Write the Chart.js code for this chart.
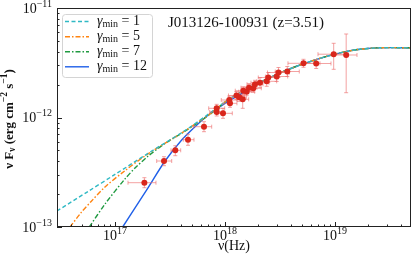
<!DOCTYPE html>
<html>
<head>
<meta charset="utf-8">
<script src="https://cdn.jsdelivr.net/npm/chart.js@4"></script>
<style>
html,body{margin:0;padding:0;background:#fff;}
canvas{display:block;}
</style>
</head>
<body>
<canvas id="sed" width="415" height="260"></canvas>
<script>
//axis limits
const xMin = 2.97e16, xMax = 4.91e19;
const yMin = 1e-13, yMax = 1e-11;
const xMajorTicks = [1e17, 1e18, 1e19];
const yMajorTicks = [1e-13, 1e-12, 1e-11];

//observed points (nu, nuF_nu) and error bar ends
const nu =    [1.85e17,2.79e17,3.534e17,4.61e17,6.443e17,8.405e17,8.405e17,9.59e17,1.094e18,1.11e18,1.272e18,1.349e18,1.449e18,1.467e18,1.575e18,1.653e18,1.808e18,1.874e18,2.08e18,2.394e18,2.475e18,2.951e18,3.065e18,3.685e18,5.172e18,6.746e18,9.732e18,1.264e19];
const nuLo =  [1.313e17,2.394e17,3.229e17,4.178e17,5.149e17,7.109e17,7.26e17,8.405e17,9.256e17,9.59e17,1.076e18,1.165e18,1.278e18,1.24e18,1.332e18,1.398e18,1.529e18,1.585e18,1.723e18,1.942e18,2.008e18,2.344e18,2.435e18,2.867e18,3.738e18,5.012e18,7.007e18,9.59e18];
const nuHi =  [2.358e17,3.278e17,3.957e17,5.226e17,7.57e17,9.938e17,9.73e17,1.165e18,1.294e18,1.285e18,1.504e18,1.562e18,1.642e18,1.734e18,1.862e18,1.954e18,2.138e18,2.216e18,2.512e18,2.951e18,3.051e18,3.715e18,3.858e18,4.736e18,7.305e18,9.197e18,1.313e19,1.585e19];
const flux =  [2.539e-13,4.005e-13,5.018e-13,6.27e-13,8.241e-13,1.213e-12,1.122e-12,1.092e-12,1.444e-12,1.348e-12,1.588e-12,1.529e-12,1.466e-12,1.757e-12,1.72e-12,1.871e-12,1.848e-12,2.01e-12,2.078e-12,2.14e-12,2.319e-12,2.368e-12,2.576e-12,2.63e-12,3.126e-12,3.113e-12,3.784e-12,3.722e-12];
const fluxLo =[2.285e-13,3.629e-13,4.479e-13,5.573e-13,7.42e-13,1.115e-12,1.032e-12,9.83e-13,1.328e-12,1.239e-12,1.46e-12,1.405e-12,1.213e-12,1.615e-12,1.581e-12,1.72e-12,1.698e-12,1.848e-12,1.871e-12,1.927e-12,2.087e-12,2.132e-12,2.319e-12,2.368e-12,2.873e-12,2.802e-12,2.755e-12,1.684e-12];
const fluxHi =[2.82e-13,4.385e-13,5.527e-13,7.025e-13,9.155e-13,1.319e-12,1.221e-12,1.213e-12,1.571e-12,1.466e-12,1.727e-12,1.663e-12,1.709e-12,1.911e-12,1.871e-12,2.035e-12,2.01e-12,2.186e-12,2.309e-12,2.378e-12,2.576e-12,2.63e-12,2.861e-12,2.922e-12,3.40e-12,3.386e-12,4.76e-12,5.79e-12];

//model curves, low energy part of each one
const gammaMin = [1, 5, 7, 12];
const cyanNu = [2.97e16,5.68e16,1e17,1.995e17,4.33e17,7.31e17,1e18];
const cyanF  = [1.40e-13,2.11e-13,3.02e-13,4.70e-13,7.60e-13,1.10e-12,1.385e-12];
const orangeNu = [3.90e16,4.88e16,6.1e16,8.11e16,1.233e17,1.995e17,4.33e17,7.31e17,1e18];
const orangeF  = [1.0e-13,1.34e-13,1.72e-13,2.32e-13,3.27e-13,4.65e-13,7.55e-13,1.08e-12,1.385e-12];
const greenNu = [5.84e16,8.11e16,1.233e17,1.52e17,1.995e17,2.85e17,4.33e17,7.31e17,1e18];
const greenF  = [1.0e-13,1.62e-13,2.75e-13,3.45e-13,4.43e-13,5.79e-13,7.50e-13,1.07e-12,1.385e-12];
const blueNu = [1.175e17,1.942e17,2.85e17,4.04e17,5.34e17,7.05e17,1e18,1.52e18];
const blueF  = [1.0e-13,2.18e-13,4.005e-13,6.23e-13,8.24e-13,1.054e-12,1.348e-12,1.72e-12];
//high energy part shared by all models
const commonNu = [1.18e18,1.69e18,2.41e18,3.37e18,4.81e18,6.86e18,9.59e18,1.285e19,1.69e19,2.41e19,3.16e19,4.91e19];
const commonF  = [1.549e-12,1.88e-12,2.247e-12,2.62e-12,3.016e-12,3.40e-12,3.75e-12,4.02e-12,4.20e-12,4.32e-12,4.35e-12,4.32e-12];

const serif = '"Liberation Serif", "DejaVu Serif", serif';

//joins a low energy branch with the shared high energy part
function curvePoints(lowNu, lowF){
	const pts = lowNu.map((v,i) => ({x:v, y:lowF[i]}));
	const last = lowNu[lowNu.length-1];
	commonNu.forEach((v,i) => { if(v > last) pts.push({x:v, y:commonF[i]}); });
	return pts;
}

const curveStyles = [
	{nu:cyanNu, f:cyanF, color:'#2fb9c4', dash:[4,2.5]},
	{nu:orangeNu, f:orangeF, color:'#ff8410', dash:[5,2,1.5,2]},
	{nu:greenNu, f:greenF, color:'#1f9a40', dash:[5,2,1.5,2]},
	{nu:blueNu, f:blueF, color:'#1f5fe8', dash:[]}
];

const curveSets = curveStyles.map((c,i) => ({
	label: 'gmin=' + gammaMin[i],
	data: curvePoints(c.nu, c.f),
	showLine: true,
	pointRadius: 0,
	borderColor: c.color,
	borderWidth: 1.4,
	borderDash: c.dash,
	tension: 0.3,
	fill: false
}));

//draws "10" with a raised exponent, anchor is 'center' or 'right'
function drawPow(ctx, exp, x, y, anchor){
	ctx.font = '14px ' + serif;
	const wb = ctx.measureText('10').width;
	ctx.font = '10px ' + serif;
	const we = ctx.measureText(exp).width;
	const total = wb + we;
	let x0 = anchor == 'right' ? x - total : x - total/2;
	ctx.textBaseline = 'middle';
	ctx.textAlign = 'left';
	ctx.font = '14px ' + serif;
	ctx.fillText('10', x0, y);
	ctx.font = '10px ' + serif;
	ctx.fillText(exp, x0 + wb, y - 5);
}

//text made of pieces with their own font and vertical shift
function drawRich(ctx, segs, x, y, align){
	let total = 0;
	segs.forEach(s => { ctx.font = s.f; total += ctx.measureText(s.t).width; });
	let cx = align == 'center' ? x - total/2 : x;
	ctx.textBaseline = 'middle';
	ctx.textAlign = 'left';
	segs.forEach(s => {
		ctx.font = s.f;
		ctx.fillText(s.t, cx, y + (s.dy || 0));
		cx += ctx.measureText(s.t).width;
	});
}

function decadeTicks(min, max){
	let out = [];
	for(let e = Math.floor(Math.log10(min)); e <= Math.ceil(Math.log10(max)); e++){
		for(let m = 1; m < 10; m++){
			const v = m * Math.pow(10, e);
			if(v >= min*0.999 && v <= max*1.001) out.push({v:v, major: m == 1});
		}
	}
	return out;
}

const sedPlugin = {
	id: 'sed',
	beforeDatasetDraw(chart, args){
		if(args.index !== 0) return;
		const ctx = chart.ctx, xs = chart.scales.x, ys = chart.scales.y;
		const a = chart.chartArea;
		ctx.save();
		ctx.beginPath();
		ctx.rect(a.left, a.top, a.right - a.left, a.bottom - a.top);
		ctx.clip();
		ctx.strokeStyle = 'rgba(236,112,112,0.65)';
		ctx.lineWidth = 1;
		for(let i = 0; i < nu.length; i++){
			const px = xs.getPixelForValue(nu[i]), py = ys.getPixelForValue(flux[i]);
			const x1 = xs.getPixelForValue(nuLo[i]), x2 = xs.getPixelForValue(nuHi[i]);
			const y1 = ys.getPixelForValue(fluxHi[i]), y2 = ys.getPixelForValue(fluxLo[i]);
			ctx.beginPath();
			ctx.moveTo(x1, py); ctx.lineTo(x2, py);
			ctx.moveTo(px, y1); ctx.lineTo(px, y2);
			//caps
			ctx.moveTo(x1, py-2); ctx.lineTo(x1, py+2);
			ctx.moveTo(x2, py-2); ctx.lineTo(x2, py+2);
			ctx.moveTo(px-2, y1); ctx.lineTo(px+2, y1);
			ctx.moveTo(px-2, y2); ctx.lineTo(px+2, y2);
			ctx.stroke();
		}
		ctx.restore();
	},
	afterDraw(chart){
		const ctx = chart.ctx, xs = chart.scales.x, ys = chart.scales.y;
		const a = chart.chartArea;
		ctx.save();
		ctx.fillStyle = '#111';
		ctx.strokeStyle = '#222';
		ctx.lineWidth = 1;

		//frame
		ctx.strokeRect(Math.round(a.left)+0.5, Math.round(a.top)+0.5, Math.round(a.right-a.left)-1, Math.round(a.bottom-a.top)-1);

		//inward ticks on bottom and left
		ctx.beginPath();
		decadeTicks(xMin, xMax).forEach(t => {
			const p = Math.round(xs.getPixelForValue(t.v)) + 0.5;
			ctx.moveTo(p, a.bottom); ctx.lineTo(p, a.bottom - (t.major ? 5 : 2.5));
		});
		decadeTicks(yMin, yMax).forEach(t => {
			const p = Math.round(ys.getPixelForValue(t.v)) + 0.5;
			ctx.moveTo(a.left, p); ctx.lineTo(a.left + (t.major ? 5 : 2.5), p);
		});
		ctx.stroke();

		//tick labels
		xMajorTicks.forEach(v => drawPow(ctx, String(Math.round(Math.log10(v))), xs.getPixelForValue(v), a.bottom + 9, 'center'));
		yMajorTicks.forEach(v => drawPow(ctx, '\u2212' + String(-Math.round(Math.log10(v))), a.left - 5, ys.getPixelForValue(v) + 1, 'right'));

		//axis titles
		drawRich(ctx, [{t:'\u03bd(Hz)', f:'14px ' + serif}], (a.left + a.right)/2, 246, 'center');
		ctx.save();
		ctx.translate(10, 119);
		ctx.rotate(-Math.PI/2);
		const b = 'bold 13px ' + serif, s = 'bold 9.5px ' + serif;
		drawRich(ctx, [
			{t:'\u03bd F', f:b}, {t:'\u03bd', f:s, dy:3},
			{t:' (erg cm', f:b}, {t:'\u22122', f:s, dy:-5},
			{t:' s', f:b}, {t:'\u22121', f:s, dy:-5}, {t:')', f:b}
		], 0, 0, 'center');
		ctx.restore();

		//source name
		drawRich(ctx, [{t:'J013126-100931 (z=3.51)', f:'15px ' + serif}], 246, 23, 'center');

		//legend
		ctx.beginPath();
		ctx.roundRect(62.5, 14.5, 90, 63, 3);
		ctx.fillStyle = 'rgba(255,255,255,0.8)';
		ctx.fill();
		ctx.strokeStyle = '#d4d4d4';
		ctx.stroke();
		const rows = [21.5, 36.8, 51.8, 66.8];
		curveStyles.forEach((c,i) => {
			ctx.strokeStyle = c.color;
			ctx.lineWidth = 1.4;
			ctx.setLineDash(c.dash);
			ctx.beginPath();
			ctx.moveTo(65, rows[i]); ctx.lineTo(89, rows[i]);
			ctx.stroke();
			ctx.setLineDash([]);
			ctx.fillStyle = '#111';
			drawRich(ctx, [
				{t:'\u03b3', f:'italic 14px ' + serif},
				{t:'min', f:'10px ' + serif, dy:3},
				{t:' = ' + gammaMin[i], f:'14px ' + serif}
			], 97, rows[i], 'left');
		});
		ctx.restore();
	}
};

const points = nu.map((v,i) => ({x:v, y:flux[i]}));

const sedChart = new Chart(document.getElementById('sed'), {
	type: 'scatter',
	data: {
		datasets: [{
			label: 'data',
			data: points,
			pointRadius: 3,
			pointBackgroundColor: '#d9261c',
			pointBorderWidth: 0,
			showLine: false
		}].concat(curveSets)
	},
	options: {
		responsive: false,
		animation: false,
		devicePixelRatio: 1,
		layout: {padding: {left:57, right:4, top:8, bottom:33}},
		plugins: {legend: {display:false}, tooltip: {enabled:false}},
		scales: {
			x: {type:'logarithmic', display:false, min:xMin, max:xMax},
			y: {type:'logarithmic', display:false, min:yMin, max:yMax}
		}
	},
	plugins: [sedPlugin]
});
</script>
</body>
</html>
